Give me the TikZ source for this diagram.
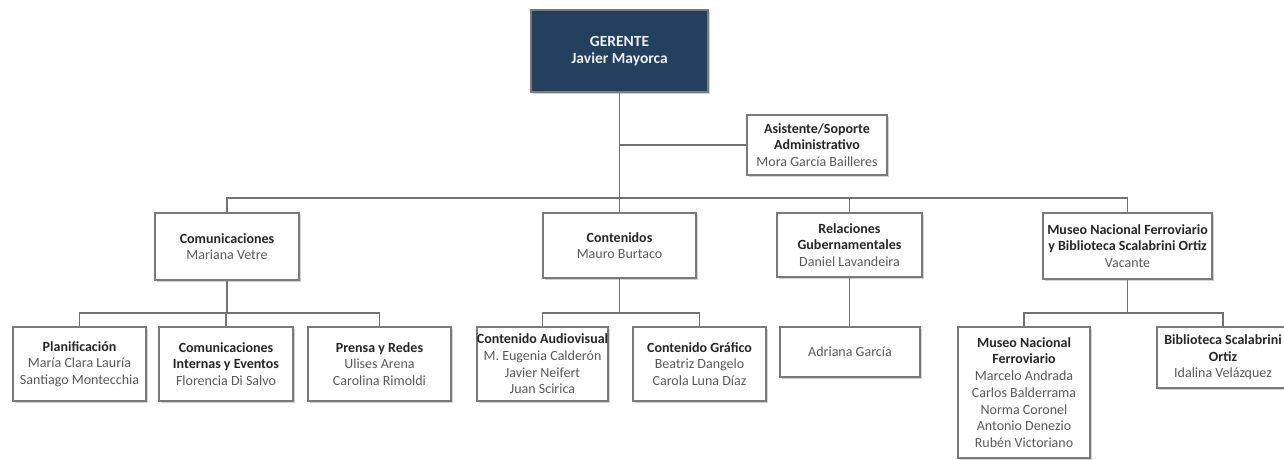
\documentclass[tikz,border=0pt]{standalone}
\usepackage{fontspec}
\setmainfont{Carlito}
\usetikzlibrary{shadows}
\definecolor{navy}{HTML}{23405F}
\definecolor{linegray}{HTML}{727272}
\definecolor{framegray}{HTML}{7A7A7A}
\definecolor{titleink}{HTML}{262626}
\definecolor{nameink}{HTML}{595959}
\newcommand{\ttl}[1]{{\bfseries\color{titleink}#1}}
\newcommand{\nm}[1]{{\color{nameink}#1}}
\tikzset{
  unit/.style={draw=framegray, line width=1.3pt, fill=white, align=center,
    inner sep=0pt, font=\fontsize{14}{16.7}\selectfont,
    drop shadow={shadow xshift=1.6pt, shadow yshift=-1.6pt, fill=black, opacity=0.18}},
  head/.style={unit, fill=navy, draw=framegray, text=white!92!navy,
    font=\fontsize{15.5}{17.2}\selectfont},
  link/.style={draw=linegray, line width=1.8pt}
}
\begin{document}
\begin{tikzpicture}[x=1pt, y=-1pt]
\useasboundingbox (0,0) rectangle (1284,460);
\clip (0,0) rectangle (1284,460);

% top management
\node[head, minimum width=177pt, minimum height=82pt] (ger) at (619.5,51)
  {\bfseries GERENTE\\\bfseries Javier Mayorca};
\node[unit, minimum width=140pt, minimum height=60pt] (asis) at (817,145)
  {\ttl{Asistente/Soporte}\\\ttl{Administrativo}\\\nm{Mora Garc\'ia Bailleres}};

% departments
\node[unit, minimum width=144pt, minimum height=67pt] (com) at (227,246.5)
  {\ttl{Comunicaciones}\\\nm{Mariana Vetre}};
\node[unit, minimum width=153pt, minimum height=65pt] (cont) at (619.5,245.5)
  {\ttl{Contenidos}\\\nm{Mauro Burtaco}};
\node[unit, minimum width=145pt, minimum height=64pt] (rel) at (849.5,245)
  {\ttl{Relaciones}\\\ttl{Gubernamentales}\\\nm{Daniel Lavandeira}};
\node[unit, minimum width=169pt, minimum height=66pt] (mus) at (1127.5,246)
  {\ttl{Museo Nacional Ferroviario}\\\ttl{y Biblioteca Scalabrini Ortiz}\\\nm{Vacante}};

% teams
\node[unit, minimum width=133pt, minimum height=74pt] (plan) at (79.5,364)
  {\ttl{Planificaci\'on}\\\nm{Mar\'ia Clara Laur\'ia}\\\nm{Santiago Montecchia}};
\node[unit, minimum width=134pt, minimum height=74pt] (cint) at (226,364)
  {\ttl{Comunicaciones}\\\ttl{Internas y Eventos}\\\nm{Florencia Di Salvo}};
\node[unit, minimum width=143pt, minimum height=74pt] (prensa) at (379.5,364)
  {\ttl{Prensa y Redes}\\\nm{Ulises Arena}\\\nm{Carolina Rimoldi}};
\node[unit, minimum width=131pt, minimum height=74pt] (aud) at (542.5,364)
  {\ttl{Contenido Audiovisual}\\\nm{M. Eugenia Calder\'on}\\\nm{Javier Neifert}\\\nm{Juan Scirica}};
\node[unit, minimum width=133pt, minimum height=74pt] (graf) at (699.5,364)
  {\ttl{Contenido Gr\'afico}\\\nm{Beatriz Dangelo}\\\nm{Carola Luna D\'iaz}};
\node[unit, minimum width=140pt, minimum height=50pt] (adri) at (850,352)
  {\nm{Adriana Garc\'ia}};
\node[unit, minimum width=132pt, minimum height=131pt] (mferr) at (1024,392.5)
  {\ttl{Museo Nacional}\\\ttl{Ferroviario}\\\nm{Marcelo Andrada}\\\nm{Carlos Balderrama}\\\nm{Norma Coronel}\\\nm{Antonio Denezio}\\\nm{Rub\'en Victoriano}};
\node[unit, minimum width=132pt, minimum height=61pt] (bibl) at (1223,357.5)
  {\ttl{Biblioteca Scalabrini}\\\ttl{Ortiz}\\\nm{Idalina Vel\'azquez}};

% bus junctions
\coordinate (b1) at (619.5,198);
\coordinate (b2) at (227,313);
\coordinate (b3) at (619.5,313);
\coordinate (b4) at (1127.5,313);

% reporting lines
\draw[link] (ger.south) -- (b1);
\draw[link] (ger.south |- asis.west) -- (asis.west);
\draw[link] (com.north) |- (b1) -| (mus.north);
\draw[link] (cont.north) -- (cont.north |- b1);
\draw[link] (rel.north) -- (rel.north |- b1);

\draw[link] (com.south) -- (b2);
\draw[link] (plan.north) |- (b2) -| (prensa.north);
\draw[link] (cint.north) -- (cint.north |- b2);

\draw[link] (cont.south) -- (b3);
\draw[link] (aud.north) |- (b3) -| (graf.north);

\draw[link] (rel.south) -- (rel.south |- adri.north);

\draw[link] (mus.south) -- (b4);
\draw[link] (mferr.north) |- (b4) -| (bibl.north);
\end{tikzpicture}
\end{document}
